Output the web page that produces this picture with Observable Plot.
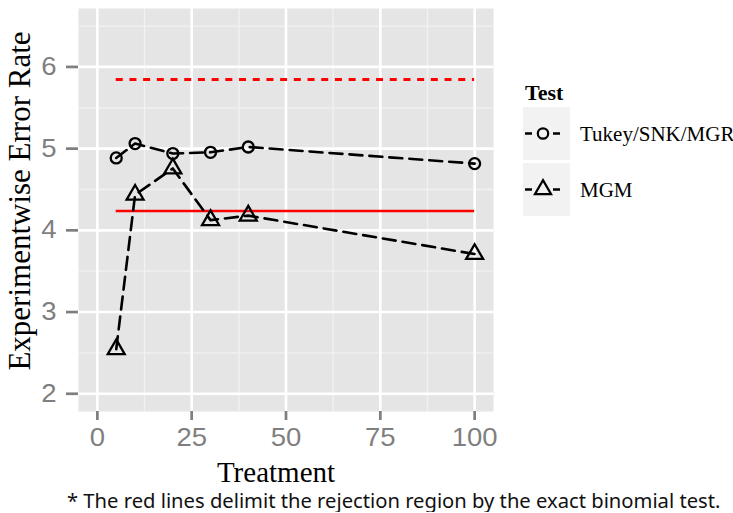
<!DOCTYPE html>
<html>
<head>
<meta charset="utf-8">
<script src="https://cdn.jsdelivr.net/npm/d3@7"></script>
<script src="https://cdn.jsdelivr.net/npm/@observablehq/plot@0.6"></script>
<style>
  html, body { margin: 0; padding: 0; background: white; }
  #caption { font-family: "Noto Sans", sans-serif; font-size: 20.2px; color: #111; padding-left: 67px; height: 21px; line-height: 19px; white-space: nowrap; }
</style>
</head>
<body>
<div id="chart"></div>
<div id="caption">* The red lines delimit the rejection region by the exact binomial test.</div>
<script>
// ---- data ----
const treatments = [5, 10, 20, 30, 40, 100];
const tukey = [4.886, 5.062, 4.94, 4.955, 5.02, 4.817];
const mgm = [2.545, 4.435, 4.757, 4.125, 4.18, 3.71];
const seriesNames = ["Tukey/SNK/MGR", "MGM"];
const refUpper = 5.846;
const refLower = 4.236;
const refStart = 5;
const refEnd = 100;
const xTicks = [0, 25, 50, 75, 100];
const xMinor = [12.5, 37.5, 62.5, 87.5];
const yTicks = [2, 3, 4, 5, 6];
const yMinor = [2.5, 3.5, 4.5, 5.5, 6.5];
const xTitle = "Treatment";
const yTitle = "Experimentwise Error Rate";
const legendTitle = "Test";

const tukeyRows = treatments.map((t, i) => ({x: t, y: tukey[i]}));
const mgmRows = treatments.map((t, i) => ({x: t, y: mgm[i]}));
const upperRows = [{y: refUpper, x1: refStart, x2: refEnd}];
const lowerRows = [{y: refLower, x1: refStart, x2: refEnd}];

const W = 733, H = 491;
const lineStyle = {stroke: "black", strokeWidth: 2.6, strokeDasharray: "13,7"};

const svg = Plot.plot({
  width: W, height: H,
  marginLeft: 78, marginRight: 240, marginTop: 8, marginBottom: 80,
  x: {domain: [-5, 105]},
  y: {domain: [1.783, 6.715]},
  style: {color: "#7F7F7F", fontFamily: "Liberation Sans, Arial, sans-serif", fontSize: "25px", background: "white"},
  marks: [
    Plot.frame({fill: "#E5E5E5", stroke: "none"}),
    Plot.ruleX(xMinor, {stroke: "#F2F2F2", strokeWidth: 1.3}),
    Plot.ruleY(yMinor, {stroke: "#F2F2F2", strokeWidth: 1.3}),
    Plot.ruleX(xTicks, {stroke: "white", strokeWidth: 2.6}),
    Plot.ruleY(yTicks, {stroke: "white", strokeWidth: 2.6}),
    Plot.ruleY(upperRows, {y: "y", x1: "x1", x2: "x2", stroke: "#FF0000", strokeWidth: 3, strokeDasharray: "7,6.7"}),
    Plot.ruleY(lowerRows, {y: "y", x1: "x1", x2: "x2", stroke: "#FF0000", strokeWidth: 2.4}),
    Plot.line(tukeyRows, {x: "x", y: "y", ...lineStyle}),
    Plot.line(mgmRows, {x: "x", y: "y", ...lineStyle}),
    Plot.dot(tukeyRows, {x: "x", y: "y", r: 5.5, stroke: "black", strokeWidth: 2.3, fill: "none"}),
    Plot.dot(mgmRows, {x: "x", y: "y", r: 6.3, symbol: "triangle", stroke: "black", strokeWidth: 2.3, fill: "none"}),
    Plot.axisX(xTicks, {tickSize: 9, tickPadding: 8, strokeWidth: 2.7, label: null, fontSize: 25, tickFormat: d3.format("d")}),
    Plot.axisY(yTicks, {tickSize: 12, tickPadding: 10, strokeWidth: 2.7, label: null, fontSize: 25, tickFormat: d3.format("d")})
  ]
});

document.getElementById("chart").appendChild(svg);

// stretch the tick labels horizontally like the reference
d3.select(svg).selectAll('g[aria-label="x-axis tick label"] text, g[aria-label="y-axis tick label"] text').each(function() {
  const len = this.getComputedTextLength();
  this.setAttribute("textLength", (len * 1.1).toFixed(1));
  this.setAttribute("lengthAdjust", "spacingAndGlyphs");
});

const s = d3.select(svg);
const serif = "Liberation Serif, Times New Roman, serif";
// axis titles
s.append("text").attr("x", 276).attr("y", 482).attr("text-anchor", "middle")
  .attr("font-family", serif).attr("font-size", 29).attr("fill", "black").text(xTitle);
s.append("text").attr("transform", "translate(30,201) rotate(-90)").attr("text-anchor", "middle")
  .attr("font-family", serif).attr("font-size", 31).attr("fill", "black").text(yTitle);

// legend
const lg = s.append("g").attr("text-anchor", "start");
lg.append("text").attr("x", 525).attr("y", 100).attr("font-family", serif).attr("font-weight", "bold")
  .attr("font-size", 22).attr("fill", "black").text(legendTitle);
const keys = [{name: seriesNames[0], y0: 107, sym: d3.symbolCircle, r: 5.2},
              {name: seriesNames[1], y0: 163, sym: d3.symbolTriangle, r: 6}];
keys.forEach(k => {
  const cy = k.y0 + 26.5;
  lg.append("rect").attr("x", 523).attr("y", k.y0).attr("width", 47).attr("height", 53).attr("fill", "#F2F2F2");
  lg.append("line").attr("x1", 525).attr("x2", 567).attr("y1", cy).attr("y2", cy)
    .attr("stroke", "black").attr("stroke-width", 2.6).attr("stroke-dasharray", "7,7");
  lg.append("path").attr("d", d3.symbol(k.sym, Math.PI * k.r * k.r)()).attr("transform", `translate(543,${cy})`)
    .attr("fill", "#F2F2F2").attr("stroke", "black").attr("stroke-width", 2.2);
  lg.append("text").attr("x", 580).attr("y", cy + 7).attr("text-anchor", "start").attr("font-family", serif).attr("font-size", 21)
    .attr("fill", "black").text(k.name);
});
</script>
</body>
</html>
